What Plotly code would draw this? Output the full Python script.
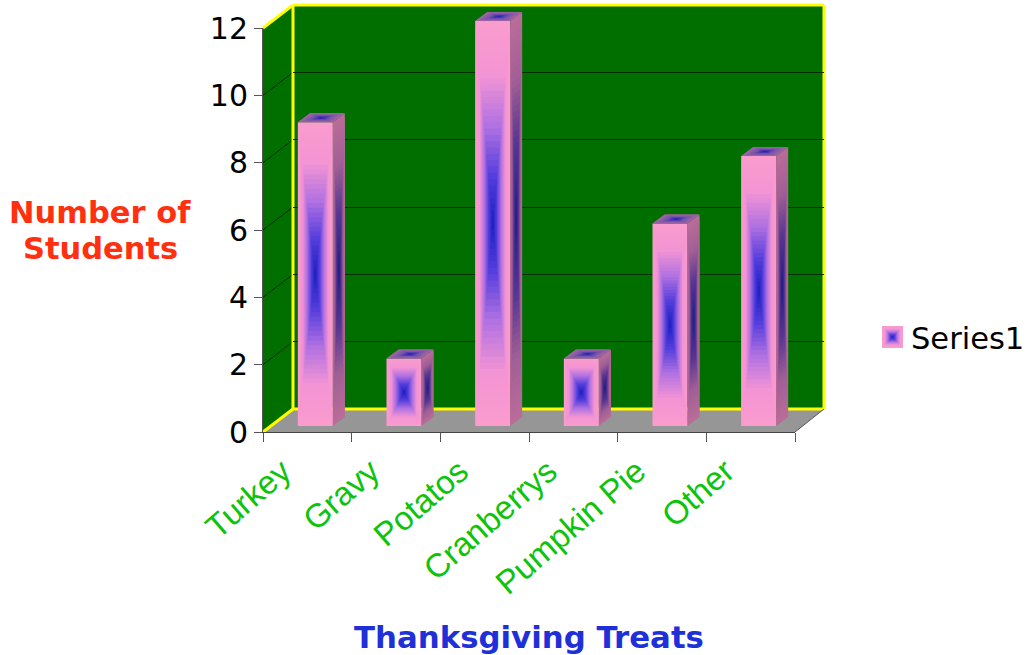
import plotly.graph_objects as go

# ---- data ----
categories = ["Turkey", "Gravy", "Potatos", "Cranberrys", "Pumpkin Pie", "Other"]
values = [9, 2, 12, 2, 6, 8]
series_name = "Series1"
y_ticks = [0, 2, 4, 6, 8, 10, 12]

# ---- layout constants (pixels of the 1028x655 page) ----
W, H = 1028, 655
FRONT = dict(l=263, r=795, top=28, bottom=432)
BACK = dict(l=293, r=824, top=5, bottom=409)
BAR_L, BAR_R, BAR_B = 271, 803, 426   # plane the bar front faces sit on
UNIT_Y = 33.75
UNIT_X = (BAR_R - BAR_L) / 6
BAR_W = 35 / UNIT_X
DX, DY = 12 / UNIT_X, 9 / UNIT_Y
Y_MAX2 = 12.5
N = 32

# gradient stops (position from the face edge to its centre, colour)
FRONT_STOPS = [(0, (250, 156, 206)), (0.25, (243, 148, 212)), (0.5, (178, 114, 225)),
               (0.75, (84, 62, 220)), (1, (25, 30, 190))]
SIDE_STOPS = [(0, (186, 108, 152)), (0.3, (160, 95, 150)), (0.6, (90, 55, 145)), (1, (32, 28, 130))]
TOP_STOPS = [(0, (166, 102, 164)), (0.5, (120, 85, 170)), (1, (30, 30, 185))]


def ramp(stops, t):
    for (a, ca), (b, cb) in zip(stops, stops[1:]):
        if t <= b:
            f = (t - a) / (b - a)
            return "rgb(%d,%d,%d)" % tuple(round(p + (q - p) * f) for p, q in zip(ca, cb))
    return "rgb(%d,%d,%d)" % stops[-1][1]


def px(x):
    return x / W


def py(y):
    return 1 - y / H


def path(points):
    return "M " + " L ".join(f"{px(x):.5f} {py(y):.5f}" for x, y in points) + " Z"


fig = go.Figure()

# carrier of the category axis and the legend entry
fig.add_trace(go.Bar(x=categories, y=values, name=series_name, showlegend=True,
                     marker=dict(color="rgba(0,0,0,0)", line=dict(width=0)),
                     hoverinfo="skip", xaxis="x", yaxis="y"))
# back wall carries its own grid
fig.add_trace(go.Scatter(x=[0], y=[0], mode="none", showlegend=False, hoverinfo="skip",
                         xaxis="x2", yaxis="y2"))

idx = list(range(len(values)))
for i in range(N):
    t = i / N
    s = 1 - t
    # front faces: concentric rectangles give the path gradient
    fig.add_trace(go.Bar(x=idx, y=[v * s for v in values], base=[v * t / 2 for v in values],
                         width=[BAR_W * s] * len(values),
                         marker=dict(color=ramp(FRONT_STOPS, t), line=dict(width=0)),
                         showlegend=False, hoverinfo="skip", xaxis="x3", yaxis="y3"))
    # side + top faces, one polygon per bar, shrinking toward the face centre
    sx, sy, tx, ty = [], [], [], []
    for k, v in zip(idx, values):
        r = k + BAR_W / 2
        l = k - BAR_W / 2
        u0, u1 = t / 2, 1 - t / 2
        for a, b in [(u0, u0), (u1, u0), (u1, u1), (u0, u1), (u0, u0)]:
            sx.append(r + DX * a)
            sy.append(DY * a + v * b)
            tx.append(l + (r - l) * b + DX * a)
            ty.append(v + DY * a)
        sx.append(None); sy.append(None); tx.append(None); ty.append(None)
    fig.add_trace(go.Scatter(x=sx, y=sy, mode="none", fill="toself",
                             fillcolor=ramp(SIDE_STOPS, t), showlegend=False,
                             hoverinfo="skip", xaxis="x3", yaxis="y3"))
    fig.add_trace(go.Scatter(x=tx, y=ty, mode="none", fill="toself",
                             fillcolor=ramp(TOP_STOPS, t), showlegend=False,
                             hoverinfo="skip", xaxis="x3", yaxis="y3"))

GREEN = "#006f00"
YELLOW = "#ffff00"
GRID = "#052c05"
fl, fr, ft, fb = FRONT["l"], FRONT["r"], FRONT["top"], FRONT["bottom"]
bl, br, bt, bb = BACK["l"], BACK["r"], BACK["top"], BACK["bottom"]

shapes = [
    dict(type="path", xref="paper", yref="paper", path=path([(fl, ft), (bl, bt), (bl, bb), (fl, fb)]),
         fillcolor=GREEN, line=dict(width=0), layer="below"),
    dict(type="path", xref="paper", yref="paper", path=path([(bl, bt), (br, bt), (br, bb), (bl, bb)]),
         fillcolor=GREEN, line=dict(width=0), layer="below"),
    dict(type="path", xref="paper", yref="paper", path=path([(fl, fb), (bl, bb), (br, bb), (fr, fb)]),
         fillcolor="#969696", line=dict(width=0), layer="below"),
]
# grid on the side wall
for v in y_ticks[1:-1]:
    shapes.append(dict(type="line", xref="paper", yref="paper",
                       x0=px(fl), x1=px(bl),
                       y0=py(fb - (fb - ft) * v / 12), y1=py(bb - (bb - bt) * v / 12),
                       line=dict(color=GRID, width=1), layer="below"))
# yellow edges
for (x0, y0, x1, y1) in [(fl, ft, bl, bt), (fl, fb, bl, bb), (bl, bt, br, bt), (br, bt, br, bb),
                         (bl, bb, br, bb), (bl, bt, bl, bb)]:
    shapes.append(dict(type="line", xref="paper", yref="paper", x0=px(x0), x1=px(x1),
                       y0=py(y0), y1=py(y1), line=dict(color=YELLOW, width=3), layer="below"))
shapes.append(dict(type="line", xref="paper", yref="paper", x0=px(fr), x1=px(br), y0=py(fb), y1=py(bb),
                   line=dict(color="#555555", width=1), layer="below"))
# legend swatch
SW = (882, 903, 326, 348)
for i in range(12):
    t = i / 12
    dx = (SW[1] - SW[0]) / 2 * t
    dy = (SW[3] - SW[2]) / 2 * t
    shapes.append(dict(type="rect", xref="paper", yref="paper",
                       x0=px(SW[0] + dx), x1=px(SW[1] - dx), y0=py(SW[2] + dy), y1=py(SW[3] - dy),
                       fillcolor=ramp(FRONT_STOPS, t), line=dict(width=0), layer="below"))

TICK_FONT = dict(family="DejaVu Sans", size=30, color="#000000")
TITLE_RED = dict(family="DejaVu Sans", size=30.5, color="#ff3010")
fig.update_layout(
    width=W, height=H,
    margin=dict(l=0, r=0, t=0, b=0, autoexpand=False),
    paper_bgcolor="white", plot_bgcolor="rgba(0,0,0,0)",
    barmode="overlay", showlegend=True, shapes=shapes,
    legend=dict(x=px(871), y=py(337), xanchor="left", yanchor="middle",
                bgcolor="rgba(0,0,0,0)", borderwidth=0,
                font=dict(family="DejaVu Sans", size=30.5, color="#000000")),
    xaxis=dict(domain=[px(fl), px(fr)], type="category", categoryorder="array", categoryarray=categories,
               range=[-0.5, 5.5], tickson="boundaries", ticks="outside", ticklen=9, tickcolor="#555555",
               showline=True, linecolor="#444444", linewidth=1, showgrid=False, zeroline=False,
               tickangle=-41, tickfont=dict(family="Liberation Sans", size=33, color="#0cc40c"),
               ticklabelstandoff=6, ticklabelshift=-25,
               title=dict(text="<b>Thanksgiving Treats</b>", standoff=28,
                          font=dict(family="DejaVu Sans", size=30.8, color="#2030d8")),
               anchor="y", automargin=False),
    yaxis=dict(domain=[py(fb), py(ft)], range=[0, 12], tickvals=y_ticks, ticks="outside", ticklen=8,
               tickcolor="#555555", showline=True, linecolor="#555555", linewidth=1, showgrid=False,
               zeroline=False, tickfont=TICK_FONT, anchor="x", automargin=False),
    xaxis2=dict(domain=[px(bl), px(br)], range=[-0.5, 5.5], showticklabels=False, ticks="", showgrid=False,
                zeroline=False, showline=False, anchor="y2"),
    yaxis2=dict(domain=[py(bb), py(bt)], range=[0, 12], tickvals=y_ticks, showticklabels=False, ticks="",
                showgrid=True, gridcolor=GRID, gridwidth=1, zeroline=False, showline=False, anchor="x2"),
    xaxis3=dict(domain=[px(BAR_L), px(BAR_R)], range=[-0.5, 5.5], visible=False, anchor="y3"),
    yaxis3=dict(domain=[py(BAR_B), py(BAR_B - UNIT_Y * Y_MAX2)], range=[0, Y_MAX2], visible=False, anchor="x3"),
    annotations=[
        dict(text="<b>Number of</b>", xref="paper", yref="paper", x=px(100), y=py(212),
             xanchor="center", yanchor="middle", showarrow=False, font=TITLE_RED),
        dict(text="<b>Students</b>", xref="paper", yref="paper", x=px(100), y=py(248),
             xanchor="center", yanchor="middle", showarrow=False, font=TITLE_RED),
    ],
)

fig.write_html("out.html", config=dict(displayModeBar=False),
               post_script="document.body.style.margin='0';document.body.style.overflow='hidden';")
